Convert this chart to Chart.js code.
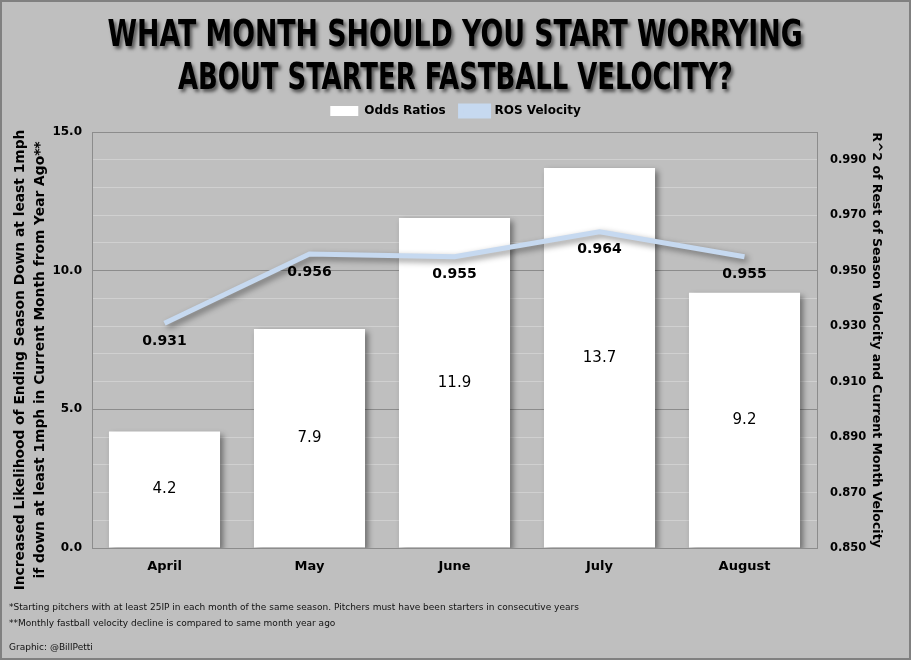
<!DOCTYPE html>
<html>
<head>
<meta charset="utf-8">
<script src="https://cdn.jsdelivr.net/npm/chart.js@4/dist/chart.umd.min.js"></script>
<style>
  html, body { margin: 0; padding: 0; }
  body { width: 911px; height: 660px; background: #bfbfbf; position: relative; overflow: hidden;
         font-family: "DejaVu Sans", sans-serif; }
  #frame { position: absolute; left: 0; top: 0; width: 907px; height: 656px; border: 2px solid #808080; }
  #chartBox { position: absolute; left: 0; top: 0; width: 911px; height: 660px; }
  .title { position: absolute; left: 0; width: 911px; text-align: center; font-family: "Liberation Sans Narrow", "DejaVu Sans Condensed", "Liberation Sans", sans-serif;
           font-weight: bold; font-size: 37px; color: #000; text-shadow: 3px 3px 4px rgba(0,0,0,0.55); white-space: nowrap; }
  .title span { display: inline-block; transform-origin: center; }
  .note { position: absolute; left: 9px; font-size: 9px; color: #111; white-space: nowrap; }
</style>
</head>
<body>
<div id="chartBox"><canvas id="myChart" width="911" height="660"></canvas></div>
<div class="title" style="top:12px"><span id="t1">WHAT MONTH SHOULD YOU START WORRYING</span></div>
<div class="title" style="top:55px"><span id="t2">ABOUT STARTER FASTBALL VELOCITY?</span></div>
<div class="note" style="top:602px">*Starting pitchers with at least 25IP in each month of the same season. Pitchers must have been starters in consecutive years</div>
<div class="note" style="top:618px">**Monthly fastball velocity decline is compared to same month year ago</div>
<div class="note" style="top:642px">Graphic: @BillPetti</div>
<div id="frame"></div>
<script>
// squeeze the title lines to the reference widths
[["t1", 695], ["t2", 555]].forEach(([id, w]) => {
  const el = document.getElementById(id);
  el.style.transform = "scaleX(" + (w / el.offsetWidth) + ")";
});

const months = ["April", "May", "June", "July", "August"];
const oddsRatios = [4.2, 7.9, 11.9, 13.7, 9.2];
const rosVelocity = [0.931, 0.956, 0.955, 0.964, 0.955];
const rightTicks = [0.85, 0.87, 0.89, 0.91, 0.93, 0.95, 0.97, 0.99];
const leftTitle = ["Increased Likelihood of Ending Season Down at least 1mph", "if down at least 1mph in Current Month from Year Ago**"];
const rightTitle = "R^2 of Rest of Season Velocity and Current Month Velocity";

Chart.defaults.font.family = "DejaVu Sans";
Chart.defaults.color = "#000";

// soft drop shadow under bars and line
const shadowPlugin = {
  id: "shadow",
  beforeDatasetDraw(chart, args) {
    const ctx = chart.ctx;
    ctx.save();
    ctx.shadowColor = "rgba(0,0,0,0.45)";
    ctx.shadowBlur = 6;
    ctx.shadowOffsetX = 3;
    ctx.shadowOffsetY = 3;
  },
  afterDatasetDraw(chart) {
    chart.ctx.restore();
  }
};

// value labels
const labelPlugin = {
  id: "valueLabels",
  afterDatasetsDraw(chart) {
    const ctx = chart.ctx;
    ctx.save();
    ctx.textAlign = "center";
    ctx.textBaseline = "middle";
    ctx.fillStyle = "#000";
    const bars = chart.getDatasetMeta(0).data;
    ctx.font = "15px DejaVu Sans";
    bars.forEach((b, i) => {
      ctx.fillText(oddsRatios[i].toFixed(1), b.x, (b.y + b.base) / 2);
    });
    const pts = chart.getDatasetMeta(1).data;
    ctx.font = "bold 14px DejaVu Sans";
    pts.forEach((p, i) => {
      ctx.fillText(rosVelocity[i].toFixed(3), p.x, p.y + 18);
    });
    ctx.restore();
  }
};

// axis titles (left one sits a bit lower than centre and is clipped at the bottom)
const axisTitlePlugin = {
  id: "axisTitles",
  afterDraw(chart) {
    const ctx = chart.ctx;
    const a = chart.chartArea;
    const cy = (a.top + a.bottom) / 2;
    ctx.save();
    ctx.beginPath();
    ctx.rect(0, 0, chart.width, 590);
    ctx.clip();
    ctx.fillStyle = "#000";
    ctx.textAlign = "center";
    ctx.textBaseline = "middle";
    ctx.font = "bold 13.8px DejaVu Sans";
    ctx.save();
    ctx.translate(20, cy + 20);
    ctx.rotate(-Math.PI / 2);
    ctx.fillText(leftTitle[0], 0, 0);
    ctx.fillText(leftTitle[1], 0, 20);
    ctx.restore();
    ctx.font = "bold 12.5px DejaVu Sans";
    ctx.translate(876, cy);
    ctx.rotate(Math.PI / 2);
    ctx.fillText(rightTitle, 0, 0);
    ctx.restore();
  }
};

const ctx = document.getElementById("myChart");
new Chart(ctx, {
  data: {
    labels: months,
    datasets: [{
      type: "bar",
      label: "Odds Ratios",
      data: oddsRatios,
      backgroundColor: "#ffffff",
      borderWidth: 0,
      categoryPercentage: 1,
      barPercentage: 0.766,
      yAxisID: "y",
      order: 2
    }, {
      type: "line",
      label: "ROS Velocity",
      data: rosVelocity,
      borderColor: "#c6d9f0",
      backgroundColor: "#c6d9f0",
      borderWidth: 5,
      pointRadius: 0,
      tension: 0,
      yAxisID: "y2",
      order: 1
    }]
  },
  plugins: [shadowPlugin, labelPlugin, axisTitlePlugin],
  options: {
    responsive: false,
    animation: false,
    devicePixelRatio: 1,
    layout: { padding: { top: 90, bottom: 80, left: 0, right: 0 } },
    plugins: {
      // empty title used only as a spacer between legend and plot
      title: { display: true, text: " ", weight: 500, padding: 0, font: { size: 4, lineHeight: 1.25 } },
      legend: {
        position: "top",
        labels: {
          boxWidth: 28, boxHeight: 10, padding: 15, font: { size: 12, weight: "bold" },
          sort: (a, b) => a.datasetIndex - b.datasetIndex
        }
      },
      tooltip: { enabled: false }
    },
    scales: {
      x: {
        grid: { display: false },
        border: { color: "#8c8c8c" },
        ticks: { font: { size: 13, weight: "bold" }, padding: 3 },
        afterFit(s) { s.height = 32; }
      },
      y: {
        position: "left",
        min: 0,
        max: 15,
        ticks: {
          stepSize: 1,
          padding: 10,
          font: { size: 12, weight: "bold" },
          callback: (v) => (v % 5 === 0 ? v.toFixed(1) : "")
        },
        grid: {
          drawTicks: false,
          color: (c) => (c.tick && c.tick.value % 5 === 0 ? "#8c8c8c" : "#d0d0d0")
        },
        border: { color: "#8c8c8c" },
        afterFit(s) { s.width = 92; }
      },
      y2: {
        position: "right",
        min: 0.85,
        max: 1.0,
        afterBuildTicks(s) { s.ticks = rightTicks.map(v => ({ value: v })); },
        ticks: {
          padding: 13,
          font: { size: 11.5, weight: "bold" },
          callback: (v) => v.toFixed(3)
        },
        grid: { display: false, drawTicks: false },
        border: { color: "#8c8c8c" },
        afterFit(s) { s.width = 94; }
      }
    }
  }
});
</script>
</body>
</html>
